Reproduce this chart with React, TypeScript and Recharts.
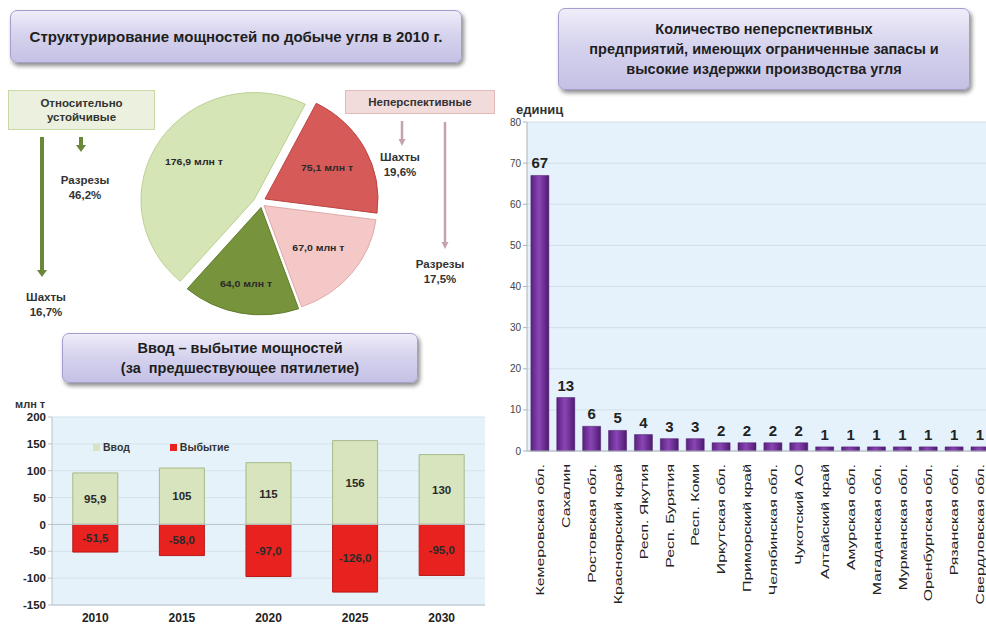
import React from "react";
import {
  PieChart,
  Pie,
  Cell,
  BarChart,
  Bar,
  XAxis,
  YAxis,
  CartesianGrid,
  LabelList,
  Legend,
  ReferenceLine,
} from "recharts";

// pie: structure of coal mining capacity, 2010
const pieNames = ["Неперспективные шахты", "Неперспективные разрезы", "Устойчивые шахты", "Устойчивые разрезы"];
const pieValues = [75.1, 67.0, 64.0, 176.9];
const pieColors = ["#d65a58", "#f3c8c7", "#77933c", "#d6e5b5"];
const pieStrokes = ["#b84442", "#dea9a8", "#5e7a2c", "#b9cf91"];
const pieShift = [[3, -4], [2, 3], [-1, 5], [-8, -3]];
const pieLabelR = [0.62, 0.62, 0.72, 0.64];

// commissioning / retirement of capacity
const years = ["2010", "2015", "2020", "2025", "2030"];
const vvod = [95.9, 105, 115, 156, 130];
const vybytie = [-51.5, -58.0, -97.0, -126.0, -95.0];
const capTicks = [-150, -100, -50, 0, 50, 100, 150, 200];

// unpromising enterprises by region
const regions = [
  "Кемеровская обл.",
  "Сахалин",
  "Ростовская обл.",
  "Красноярский край",
  "Респ. Якутия",
  "Респ. Бурятия",
  "Респ. Коми",
  "Иркутская обл.",
  "Приморский край",
  "Челябинская обл.",
  "Чукотский АО",
  "Алтайский край",
  "Амурская обл.",
  "Магаданская обл.",
  "Мурманская обл.",
  "Оренбургская обл.",
  "Рязанская обл.",
  "Свердловская обл.",
];
const counts = [67, 13, 6, 5, 4, 3, 3, 2, 2, 2, 2, 1, 1, 1, 1, 1, 1, 1];
const countTicks = [0, 10, 20, 30, 40, 50, 60, 70, 80];

const pieData = pieNames.map((name, i) => ({ name, value: pieValues[i] }));
const capData = years.map((year, i) => ({ year, vvod: vvod[i], vybytie: vybytie[i] }));
const regionData = regions.map((region, i) => ({ region, count: counts[i] }));

const FONT = "'Liberation Sans', Arial, sans-serif";
const comma = (v: number, d: number) => v.toFixed(d).replace(".", ",");

const TitleBox = ({ left, top, width, height, lines, fontSize }: any) => (
  <div
    style={{
      position: "absolute",
      left,
      top,
      width,
      height,
      boxSizing: "border-box",
      borderRadius: 7,
      border: "1px solid #a29ecd",
      background: "linear-gradient(#efedf9, #d6d3ee 45%, #c5c1e5)",
      boxShadow: "2px 3px 4px rgba(0,0,0,0.45)",
      display: "flex",
      flexDirection: "column",
      justifyContent: "center",
      alignItems: "center",
      fontFamily: FONT,
      fontWeight: 700,
      fontSize,
      lineHeight: 1.4,
      color: "#1e1e1e",
      whiteSpace: "pre",
    }}
  >
    {lines.map((l: string) => (
      <div key={l}>{l}</div>
    ))}
  </div>
);

const NoteBox = ({ left, top, width, height, lines, bg, border }: any) => (
  <div
    style={{
      position: "absolute",
      left,
      top,
      width,
      height,
      boxSizing: "border-box",
      background: bg,
      border: `1px solid ${border}`,
      display: "flex",
      flexDirection: "column",
      justifyContent: "center",
      alignItems: "center",
      fontFamily: FONT,
      fontWeight: 700,
      fontSize: 11.5,
      lineHeight: 1.25,
      color: "#333",
    }}
  >
    {lines.map((l: string) => (
      <div key={l}>{l}</div>
    ))}
  </div>
);

const Arrow = ({ x, y1, y2, color, w }: any) => (
  <g>
    <line x1={x} y1={y1} x2={x} y2={y2 - 6} stroke={color} strokeWidth={w} />
    <polygon points={`${x - w - 1},${y2 - 7} ${x + w + 1},${y2 - 7} ${x},${y2}`} fill={color} />
  </g>
);

const NoteText = ({ x, y, lines }: any) => (
  <text x={x} y={y} textAnchor="middle" fontFamily={FONT} fontWeight={700} fontSize={11.5} fill="#333">
    {lines.map((l: string, i: number) => (
      <tspan key={l} x={x} dy={i === 0 ? 0 : 15}>
        {l}
      </tspan>
    ))}
  </text>
);

const RAD = Math.PI / 180;
const pieLabel = (owner: number) => (p: any) => {
  if (p.index !== owner) return <g />;
  const r = p.outerRadius * pieLabelR[owner];
  const x = p.cx + r * Math.cos(-p.midAngle * RAD);
  const y = p.cy + r * Math.sin(-p.midAngle * RAD);
  return (
    <text x={x} y={y} textAnchor="middle" dominantBaseline="central" fontFamily={FONT} fontWeight={700} fontSize={10.5} fill="#2a2a2a">
      {comma(p.value, 1)} млн т
    </text>
  );
};

const RegionTick = ({ x, y, payload }: any) => (
  <text
    transform={`translate(${x} ${y + 5}) rotate(-90) scale(1.38 1)`}
    x={0}
    y={0}
    textAnchor="end"
    dominantBaseline="central"
    fontFamily={FONT}
    fontSize={11.5}
    fill="#222"
  >
    {payload.value}
  </text>
);

const CapLegend = ({ payload }: any) => (
  <div style={{ display: "flex", fontFamily: FONT, fontWeight: 700, fontSize: 10.5, color: "#333" }}>
    {(payload || []).map((e: any, i: number) => (
      <div key={e.value} style={{ display: "flex", alignItems: "center", marginRight: i === 0 ? 40 : 0 }}>
        <span style={{ width: 7, height: 7, background: e.color, marginRight: 3, display: "inline-block" }} />
        {e.value}
      </div>
    ))}
  </div>
);

export default function App() {
  return (
    <div style={{ position: "absolute", left: 0, top: 0, width: 986, height: 628, overflow: "hidden", background: "#fff" }}>
      {/* pie block */}
      <TitleBox left={10} top={10} width={452} height={53} fontSize={15} lines={["Структурирование мощностей по добыче угля в 2010 г."]} />
      <NoteBox left={8} top={90} width={147} height={40} bg="#ebf1de" border="#c8d9a6" lines={["Относительно", "устойчивые"]} />
      <NoteBox left={345} top={90} width={150} height={24} bg="#f2dcdb" border="#e3b9b8" lines={["Неперспективные"]} />
      <div style={{ position: "absolute", left: 0, top: 70, transform: "scaleY(0.95)", transformOrigin: "0 128px" }}>
        <PieChart width={480} height={260}>
          {pieValues.map((_, owner) => (
            <Pie
              key={owner}
              data={pieData}
              dataKey="value"
              nameKey="name"
              cx={257 + pieShift[owner][0]}
              cy={128 + pieShift[owner][1]}
              outerRadius={113}
              startAngle={63}
              endAngle={-297}
              isAnimationActive={false}
              labelLine={false}
              label={pieLabel(owner)}
            >
              {pieData.map((d, j) => (
                <Cell
                  key={d.name}
                  fill={j === owner ? pieColors[j] : "transparent"}
                  stroke={j === owner ? pieStrokes[j] : "none"}
                  strokeWidth={1}
                />
              ))}
            </Pie>
          ))}
        </PieChart>
      </div>
      <svg style={{ position: "absolute", left: 0, top: 0 }} width={490} height={330}>
        <Arrow x={42} y1={137} y2={277} color="#6b873a" w={4} />
        <Arrow x={81} y1={137} y2={152} color="#6b873a" w={4} />
        <Arrow x={402} y1={121} y2={146} color="#c4a3ab" w={2.5} />
        <Arrow x={445} y1={122} y2={249} color="#c4a3ab" w={2.5} />
        <NoteText x={85} y={184} lines={["Разрезы", "46,2%"]} />
        <NoteText x={46} y={301} lines={["Шахты", "16,7%"]} />
        <NoteText x={400} y={161} lines={["Шахты", "19,6%"]} />
        <NoteText x={440} y={268} lines={["Разрезы", "17,5%"]} />
      </svg>

      {/* capacity in/out block */}
      <TitleBox left={62} top={333} width={356} height={50} fontSize={14.5} lines={["Ввод – выбытие мощностей", "(за  предшествующее пятилетие)"]} />
      <div style={{ position: "absolute", left: 15, top: 398, fontFamily: FONT, fontWeight: 700, fontSize: 11, color: "#333" }}>млн т</div>
      <div style={{ position: "absolute", left: 0, top: 390 }}>
        <BarChart width={490} height={238} data={capData} stackOffset="sign" barCategoryGap="24%" margin={{ top: 27, right: 5, bottom: 0, left: 0 }}>
          <CartesianGrid vertical={false} stroke="#d5e2ea" fill="#e5f2fa" />
          <XAxis dataKey="year" height={23} tickLine={false} axisLine={{ stroke: "#b9c4ca" }} tick={{ fontFamily: FONT, fontWeight: 700, fontSize: 12, fill: "#222" }} />
          <YAxis
            width={52}
            domain={[-150, 200]}
            ticks={capTicks}
            interval={0}
            axisLine={{ stroke: "#b9c4ca" }}
            tickLine={{ stroke: "#b9c4ca" }}
            tickSize={4}
            tick={{ fontFamily: FONT, fontWeight: 700, fontSize: 11.5, fill: "#222" }}
          />
          <ReferenceLine y={0} stroke="#b9c4ca" />
          <Legend verticalAlign="middle" align="center" layout="horizontal" wrapperStyle={{ top: 51, left: 93, width: "auto" }} content={<CapLegend />} />
          <Bar dataKey="vvod" name="Ввод" stackId="a" fill="#d7e4bd" stroke="#a6b98a" isAnimationActive={false}>
            <LabelList dataKey="vvod" position="center" formatter={(v: any) => comma(v, Number.isInteger(v) ? 0 : 1)} style={{ fontFamily: FONT, fontWeight: 700, fontSize: 11.5, fill: "#2a2a2a" }} />
          </Bar>
          <Bar dataKey="vybytie" name="Выбытие" stackId="a" fill="#e8231f" stroke="#b51a17" isAnimationActive={false}>
            <LabelList dataKey="vybytie" position="center" formatter={(v: any) => comma(v, 1)} style={{ fontFamily: FONT, fontWeight: 700, fontSize: 11.5, fill: "#2a2a2a" }} />
          </Bar>
        </BarChart>
      </div>

      {/* regions block */}
      <TitleBox left={558} top={8} width={412} height={82} fontSize={14.5} lines={["Количество неперспективных", "предприятий, имеющих ограниченные запасы и", "высокие издержки производства угля"]} />
      <div style={{ position: "absolute", left: 516, top: 102, fontFamily: FONT, fontWeight: 700, fontSize: 13, color: "#333" }}>единиц</div>
      <div style={{ position: "absolute", left: 752, top: 170, fontFamily: FONT, fontWeight: 700, fontSize: 16.5, lineHeight: "21px", color: "#222" }}>
        <div>Всего 116 ед.</div>
        <div>мощностью 142 млн т</div>
      </div>
      <div style={{ position: "absolute", left: 490, top: 100 }}>
        <svg width={0} height={0} style={{ position: "absolute" }}>
          <defs>
            <linearGradient id="purpleBar" x1="0" y1="0" x2="1" y2="0">
              <stop offset="0%" stopColor="#5a2080" />
              <stop offset="45%" stopColor="#8a46b4" />
              <stop offset="100%" stopColor="#4e1a70" />
            </linearGradient>
          </defs>
        </svg>
        <BarChart width={503} height={528} data={regionData} barCategoryGap="15%" margin={{ top: 22, right: 0, bottom: 0, left: 0 }}>
          <CartesianGrid vertical={false} stroke="#d3dfe6" fill="#e5f2fb" />
          <XAxis dataKey="region" height={177} interval={0} tickLine={false} axisLine={{ stroke: "#aab4ba" }} tick={<RegionTick />} />
          <YAxis
            width={37}
            domain={[0, 80]}
            ticks={countTicks}
            interval={0}
            axisLine={{ stroke: "#aab4ba" }}
            tickLine={{ stroke: "#aab4ba" }}
            tickSize={4}
            tick={{ fontFamily: FONT, fontSize: 10, fill: "#444" }}
          />
          <Bar dataKey="count" fill="url(#purpleBar)" stroke="#4a1a6a" strokeWidth={0.5} isAnimationActive={false}>
            <LabelList dataKey="count" position="top" offset={7} style={{ fontFamily: FONT, fontWeight: 700, fontSize: 15, fill: "#222" }} />
          </Bar>
        </BarChart>
      </div>
    </div>
  );
}
